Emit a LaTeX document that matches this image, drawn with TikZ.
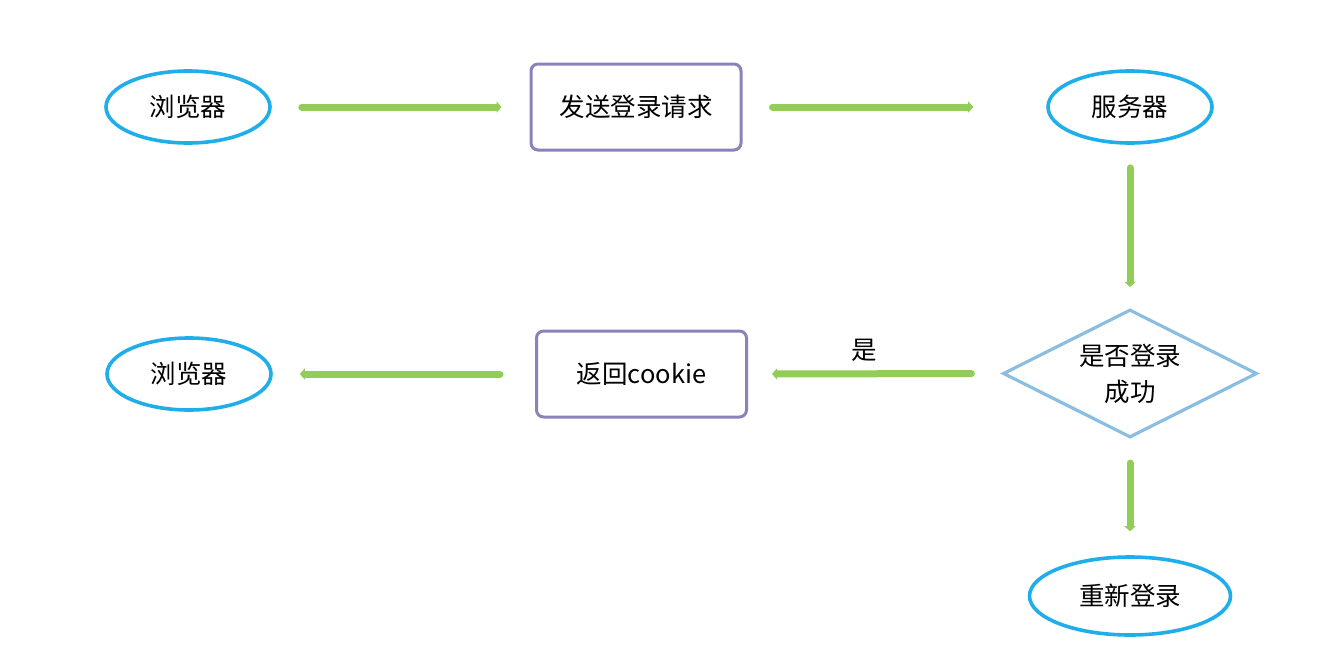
\documentclass[tikz,border=0pt]{standalone}
\usepackage{fontspec}
\setmainfont{Noto Sans CJK SC}
\usetikzlibrary{shapes.geometric,arrows.meta}
\definecolor{ecyan}{HTML}{1FAEE9}
\definecolor{rpurple}{HTML}{8C82BA}
\definecolor{dblue}{HTML}{8ABDE0}
\definecolor{agreen}{HTML}{92CD57}
\tikzset{
  lbl/.style={font=\fontsize{25.5}{36}\selectfont},
  ell/.style={ellipse,draw=ecyan,line width=3.6pt,minimum width=164pt,minimum height=72pt,inner sep=0pt,lbl},
  rbox/.style={rectangle,rounded corners=7pt,draw=rpurple,line width=3pt,minimum width=210pt,minimum height=86pt,inner sep=0pt,lbl},
  dec/.style={diamond,aspect=2,draw=dblue,line width=3.2pt,minimum width=254pt,minimum height=128pt,inner sep=0pt,align=center,lbl},
  flow/.style={draw=agreen,line width=7pt,line cap=round,-{Triangle[length=5pt,width=11pt]}},
}
\begin{document}
\begin{tikzpicture}[x=1pt,y=-1pt]
\useasboundingbox (0,0) rectangle (1326,656);
\node[ell] (b1) at (188,107) {浏览器};
\node[rbox] (send) at (636,107) {发送登录请求};
\node[ell] (srv) at (1130,107) {服务器};
\node[dec] (ok) at (1130,373.5) {是否登录\\成功};
\node[rbox] (ret) at (641.5,374) {返回cookie};
\node[ell] (b2) at (189,374) {浏览器};
\node[ell,minimum width=201pt,minimum height=78pt] (re) at (1130,596) {重新登录};
\draw[flow,shorten <=30pt,shorten >=28pt] (b1.east) -- (send.west);
\draw[flow,shorten <=30pt,shorten >=73pt] (send.east) -- (srv.west);
\draw[flow,shorten <=23pt,shorten >=21pt] (srv.south) -- (ok.north);
\draw[flow,shorten <=30pt,shorten >=24pt] (ok.west) -- node[lbl,above=5pt,pos=0.54] (yes) {是} (ret.east);
\draw[flow,shorten <=35pt,shorten >=27pt] (ret.west) -- (b2.east);
\draw[flow,shorten <=24pt,shorten >=24pt] (ok.south) -- (re.north);
\end{tikzpicture}
\end{document}
